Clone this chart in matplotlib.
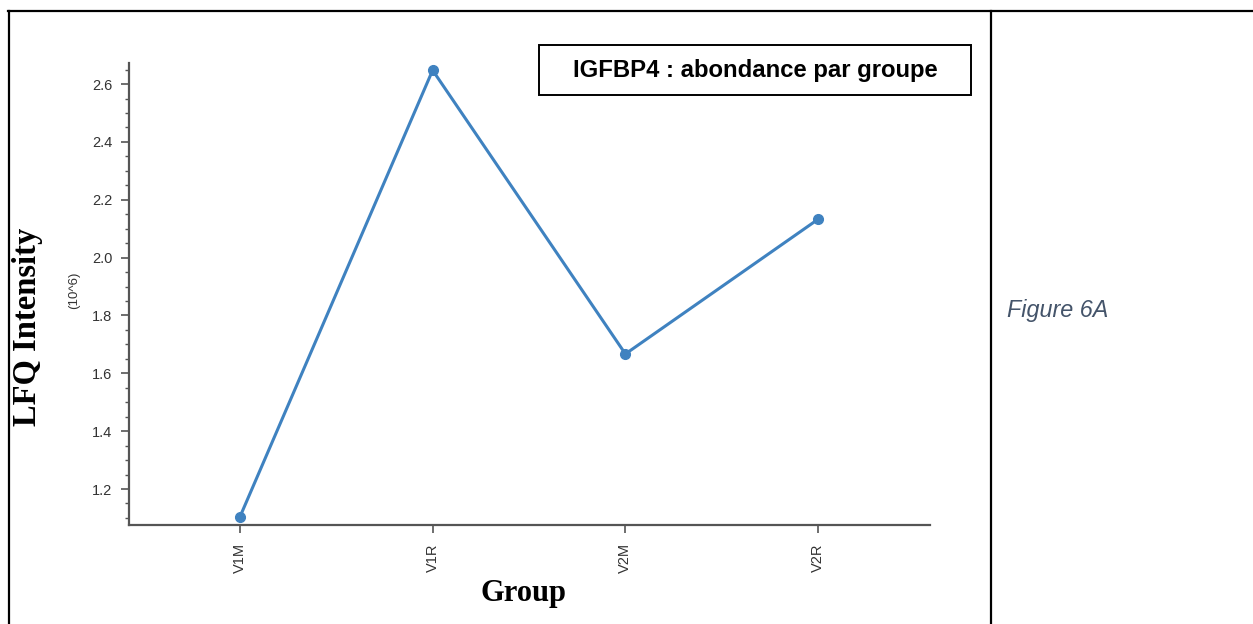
import matplotlib
matplotlib.use("Agg")
import matplotlib.pyplot as plt
from matplotlib.lines import Line2D
from matplotlib.patches import Rectangle
from matplotlib.ticker import MultipleLocator

groups = ["V1M", "V1R", "V2M", "V2R"]
values = [1.103, 2.648, 1.667, 2.133]
yticks = [1.2, 1.4, 1.6, 1.8, 2.0, 2.2, 2.4, 2.6]

W, H = 1253, 624
fig = plt.figure(figsize=(W / 100, H / 100), dpi=100)

def fx(x):
    return x / W

def fy(y):
    return 1 - y / H

# table borders
for (x0, y0, x1, y1) in [(8, 11, 1253, 11), (9, 11, 9, 624), (991, 11, 991, 624)]:
    fig.add_artist(Line2D([fx(x0), fx(x1)], [fy(y0), fy(y1)], color="black", lw=1.6,
                          transform=fig.transFigure))

ax = fig.add_axes([fx(129), fy(525), fx(930) - fx(129), fy(63) - fy(525)])
xs = list(range(len(groups)))
ax.plot(xs, values, color="#3f82c0", lw=2.2, marker="o", ms=7, zorder=3)
ax.set_xlim(-0.575, 3.58)
ax.set_ylim(1.0756, 2.673)
ax.set_xticks(xs)
ax.set_xticklabels(groups, rotation=90, fontsize=10.5, color="#333333", family="Liberation Sans")
ax.set_yticks(yticks)
ax.set_yticklabels([f"{v:.1f}" for v in yticks], fontsize=10.5, color="#333333", family="Liberation Sans")
ax.yaxis.set_minor_locator(MultipleLocator(0.05))
ax.tick_params(axis="both", which="major", length=6, color="#555555", width=1.2)
ax.tick_params(axis="y", which="minor", length=3, color="#555555", width=1.0)
ax.tick_params(axis="x", pad=7)
ax.tick_params(axis="y", pad=6)
for s in ["top", "right"]:
    ax.spines[s].set_visible(False)
for s in ["left", "bottom"]:
    ax.spines[s].set_color("#555555")
    ax.spines[s].set_linewidth(1.6)

fig.text(fx(28), fy(327), "LFQ Intensity", rotation=90, ha="center", va="center",
         fontsize=23.5, fontweight="bold", family="Liberation Serif")
fig.text(fx(74), fy(290), "(10^6)", rotation=90, ha="center", va="center",
         fontsize=9.5, color="#333333", family="Liberation Sans")
fig.text(fx(524), fy(594), "Group", ha="center", va="center",
         fontsize=22, fontweight="bold", family="Liberation Serif")

fig.add_artist(Rectangle((fx(539), fy(95)), fx(971) - fx(539), fy(45) - fy(95),
                         transform=fig.transFigure, fc="white", ec="black", lw=1.4))
fig.text(fx(755), fy(71), "IGFBP4 : abondance par groupe", ha="center", va="center",
         fontsize=17.2, fontweight="bold", family="Liberation Sans")

fig.text(fx(1007), fy(311), "Figure 6A", ha="left", va="center", fontsize=16.8,
         style="italic", color="#44546a", family="Liberation Sans")

fig.savefig("out.png", dpi=100)
